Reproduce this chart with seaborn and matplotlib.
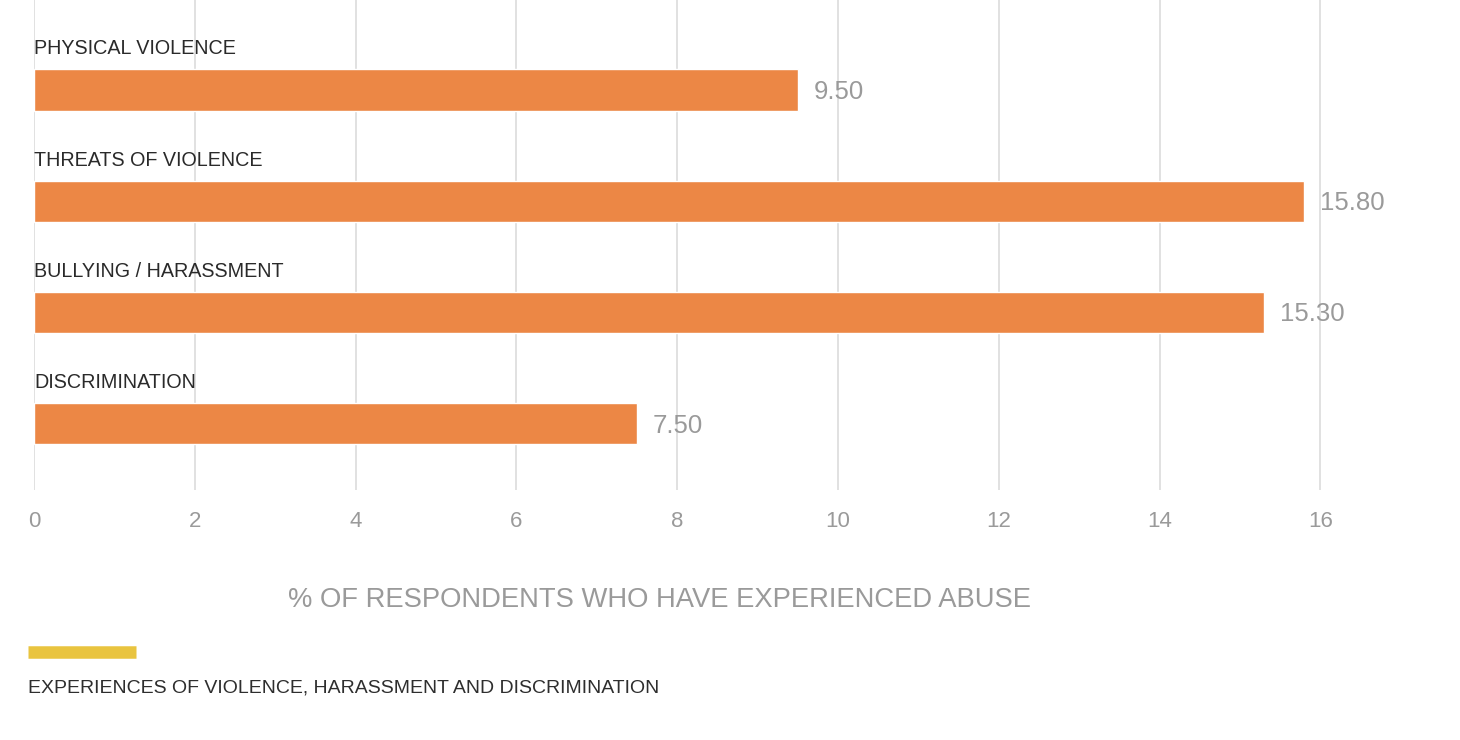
import matplotlib
matplotlib.use('Agg')
import matplotlib.pyplot as plt
import pandas as pd
import seaborn as sns

# data
categories = ['PHYSICAL VIOLENCE', 'THREATS OF VIOLENCE', 'BULLYING / HARASSMENT', 'DISCRIMINATION']
values = [9.50, 15.80, 15.30, 7.50]
xticks = [0, 2, 4, 6, 8, 10, 12, 14, 16]

df = pd.DataFrame({'category': categories, 'value': values})

sns.set_theme(style='white')
plt.rcParams['font.family'] = ['Liberation Sans', 'DejaVu Sans']

orange = '#EC8745'
grey = '#9a9a9a'

fig = plt.figure(figsize=(14.6, 7.4), dpi=100)
ax = fig.add_axes([34 / 1460, 1 - 490 / 740, (1460 - 34) / 1460, 490 / 740])

sns.barplot(data=df, x='value', y='category', color=orange, width=0.37,
            saturation=1, ax=ax, zorder=2)

ax.set_xlim(0, (1460 - 34) / 80.4)
ax.set_ylim(3.6, -0.81)
ax.set_xticks(xticks)
ax.set_xticklabels([str(t) for t in xticks], color=grey, fontsize=16)
ax.tick_params(axis='x', length=0, pad=15)
ax.set_yticks([])
ax.set_xlabel('')
ax.set_ylabel('')
for s in ax.spines.values():
    s.set_visible(False)
ax.grid(axis='x', color='#dcdcdc', linewidth=1.2, zorder=0)
ax.set_axisbelow(True)

for i, (c, v) in enumerate(zip(categories, values)):
    ax.text(0, i - 0.37, c, ha='left', va='center', fontsize=14.2, color='#2a2a2a')
    ax.text(v + 0.2, i + 0.02, f'{v:.2f}', ha='left', va='center', fontsize=18.5, color=grey)

fig.text(660 / 1460, 1 - 600 / 740, '% OF RESPONDENTS WHO HAVE EXPERIENCED ABUSE',
         ha='center', va='center', fontsize=19.7, color=grey)

# yellow accent line and caption
fig.add_artist(plt.Line2D([28 / 1460, 136 / 1460], [1 - 652 / 740, 1 - 652 / 740],
                          color='#E9C43F', linewidth=9, solid_capstyle='butt'))
fig.text(28 / 1460, 1 - 688 / 740, 'EXPERIENCES OF VIOLENCE, HARASSMENT AND DISCRIMINATION',
         ha='left', va='center', fontsize=14, color='#2e2e2e')

fig.savefig('out.png', dpi=100)
